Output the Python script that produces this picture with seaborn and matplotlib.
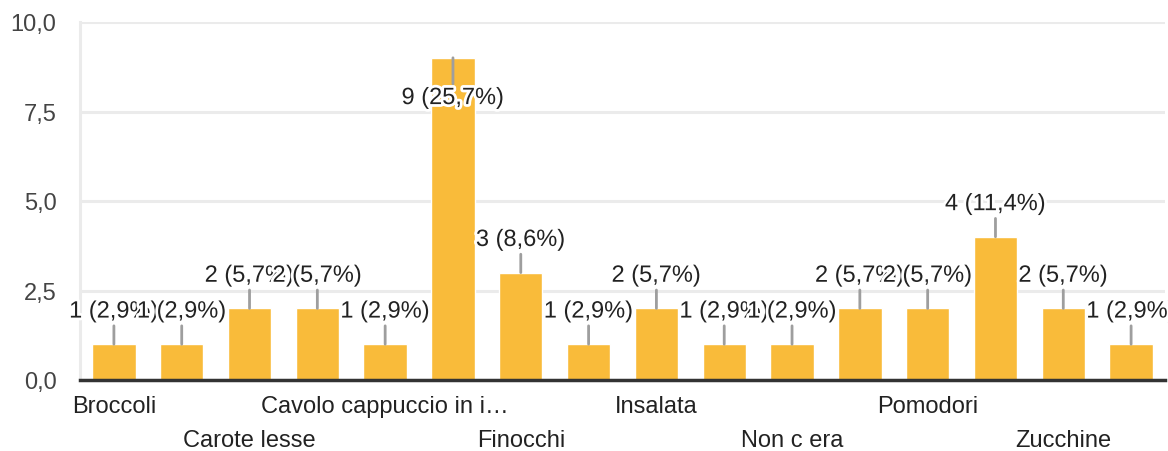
import numpy as np
import pandas as pd
import matplotlib
matplotlib.use('Agg')
import matplotlib.pyplot as plt
import matplotlib.patheffects as pe
from matplotlib.ticker import FuncFormatter
import seaborn as sns

# only every other name is visible in the chart; the hidden ones are guesses
categories = ['Broccoli', 'Carciofi', 'Carote lesse', 'Cavolfiore',
              'Cavolo cappuccio in i\u2026', 'Fagiolini', 'Finocchi', 'Funghi',
              'Insalata', 'Melanzane', 'Non c era', 'Patate',
              'Pomodori', 'Spinaci', 'Zucchine', 'Zucchine grigliate']
counts = [1, 1, 2, 2, 1, 9, 3, 1, 2, 1, 1, 2, 2, 4, 2, 1]
y_ticks = [0, 2.5, 5, 7.5, 10]

df = pd.DataFrame({'cat': categories, 'n': counts})
total = sum(counts)

sns.set_style('white')
plt.rcParams['font.family'] = ['Liberation Sans', 'DejaVu Sans']

fig = plt.figure(figsize=(11.68, 4.52), dpi=100)
ax = fig.add_axes([80 / 1168, 71 / 452, 1085 / 1168, 358 / 452])

sns.barplot(data=df, x='cat', y='n', order=categories, color='#f9bb3a',
            saturation=1, width=0.64, ax=ax, zorder=2)

ax.set_xlim(-0.5, len(categories) - 0.5)
ax.set_ylim(0, 10)
ax.set_yticks(y_ticks)
ax.yaxis.set_major_formatter(FuncFormatter(lambda v, p: ('%.1f' % v).replace('.', ',')))
ax.grid(axis='y', color='#ebebeb', lw=2.2, zorder=0)
ax.tick_params(axis='y', length=0, labelsize=17, labelcolor='#444', pad=17)
ax.set_xlabel('')
ax.set_ylabel('')

for s in ['top', 'right']:
    ax.spines[s].set_visible(False)
ax.spines['left'].set_color('#ebebeb')
ax.spines['left'].set_linewidth(2.2)
ax.spines['bottom'].set_color('#333333')
ax.spines['bottom'].set_linewidth(2.5)
ax.spines['bottom'].set_zorder(5)

# x labels: every other category, in two staggered rows
shown = list(range(0, len(categories), 2))
ax.set_xticks(shown)
ax.set_xticklabels([categories[i] for i in shown], fontsize=17, color='#222')
ax.tick_params(axis='x', length=0)
for k, t in enumerate(ax.xaxis.get_major_ticks()):
    t.set_pad(11 if k % 2 == 0 else 35)

# value labels with leader lines
for i, v in enumerate(counts):
    lbl = '%d (%s%%)' % (v, ('%.1f' % (100 * v / total)).replace('.', ','))
    off = -29 if v > 8 else 23.5
    ax.annotate(lbl, xy=(i, v), xytext=(0, off), textcoords='offset points',
                ha='center', va='center', fontsize=17, color='#222', zorder=6,
                path_effects=[pe.withStroke(linewidth=4, foreground='white')],
                arrowprops=dict(arrowstyle='-', color='#9e9e9e', lw=2,
                                shrinkA=0, shrinkB=0))

fig.savefig('out.png', dpi=100)
